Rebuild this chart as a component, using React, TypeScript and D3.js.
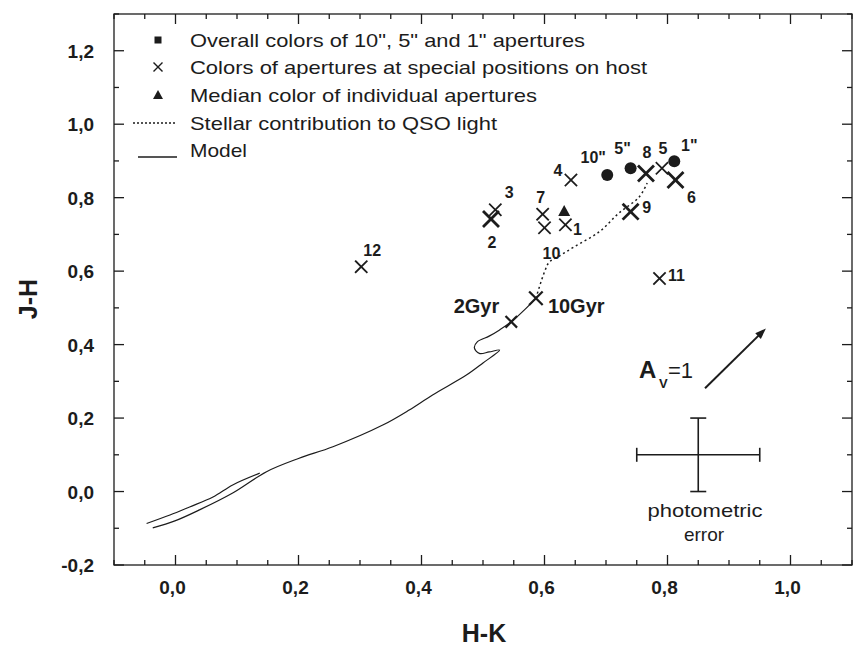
import React from "react";
import * as d3 from "d3";

// ---- data ----
const xTickValues = [0, 0.2, 0.4, 0.6, 0.8, 1.0];
const xTickLabels = ["0,0", "0,2", "0,4", "0,6", "0,8", "1,0"];
const yTickValues = [-0.2, 0, 0.2, 0.4, 0.6, 0.8, 1.0, 1.2];
const yTickLabels = ["-0,2", "0,0", "0,2", "0,4", "0,6", "0,8", "1,0", "1,2"];

// Overall colors of 10", 5" and 1" apertures
const overallLabels = ['10"', '5"', '1"'];
const overallHK = [0.702, 0.740, 0.811];
const overallJH = [0.862, 0.880, 0.899];

// Colors of apertures at special positions on host
const specialLabels = ["1", "2", "3", "4", "5", "6", "7", "8", "9", "10", "11", "12"];
const specialHK = [0.634, 0.513, 0.520, 0.643, 0.791, 0.813, 0.597, 0.765, 0.740, 0.600, 0.787, 0.302];
const specialJH = [0.726, 0.742, 0.767, 0.848, 0.880, 0.848, 0.755, 0.866, 0.762, 0.718, 0.580, 0.612];
const specialBold = [false, true, false, false, false, true, false, true, true, false, false, false];

// Median color of individual apertures
const medianHK = [0.632];
const medianJH = [0.764];

// Model track (solid)
const modelTrackMain: [number, number][] = [
  [-0.037, -0.099], [-0.001, -0.080], [0.039, -0.050], [0.093, -0.004], [0.148, 0.054],
  [0.200, 0.090], [0.256, 0.122], [0.337, 0.181], [0.380, 0.222], [0.418, 0.263],
  [0.473, 0.317], [0.500, 0.350], [0.527, 0.385], [0.510, 0.380], [0.494, 0.376],
  [0.486, 0.391], [0.491, 0.408], [0.510, 0.423], [0.527, 0.440], [0.546, 0.462],
  [0.567, 0.494], [0.586, 0.526],
];
const modelTrackBranch: [number, number][] = [
  [-0.047, -0.087], [-0.009, -0.064], [0.023, -0.042], [0.061, -0.015], [0.093, 0.018], [0.137, 0.050],
];
// Stellar contribution to QSO light (dotted)
const stellarTrack: [number, number][] = [
  [0.586, 0.526], [0.600, 0.598], [0.608, 0.625], [0.624, 0.641], [0.648, 0.666],
  [0.689, 0.707], [0.721, 0.758], [0.754, 0.802], [0.767, 0.840],
];
// Age markers on model
const ageLabels = ["2Gyr", "10Gyr"];
const ageHK = [0.546, 0.586];
const ageJH = [0.462, 0.526];

// Reddening vector A_V = 1
const avStart: [number, number] = [0.861, 0.281];
const avEnd: [number, number] = [0.960, 0.444];

// Photometric error
const errCenter: [number, number] = [0.85, 0.10];
const errHK = 0.1;
const errJH = 0.1;

const legendLabels = [
  'Overall colors of 10", 5" and 1" apertures',
  "Colors of apertures at special positions on host",
  "Median color of individual apertures",
  "Stellar contribution to QSO light",
  "Model",
];

// ---- layout ----
const W = 854;
const H = 652;
const L = 114, R = 852, T = 14, B = 565;
const INK = "#1c1c1c";
const FONT = "'Liberation Sans', Arial, Helvetica, sans-serif";

const specialOffsets: [number, number][] = [
  [12, 4], [1, 23], [14, -18], [-13, -10], [1, -20], [16, 17],
  [-2, -17], [1, -21], [16, -5], [7, 25], [17, -3], [11, -17],
];
const overallOffsets: [number, number][] = [[-14, -18], [-8, -20], [15, -16]];
const legendWidths = [395, 457, 347, 307, 57];

function Cross({ cx, cy, s, w }: { cx: number; cy: number; s: number; w: number }) {
  return (
    <g stroke={INK} strokeWidth={w} strokeLinecap="square">
      <line x1={cx - s} y1={cy - s} x2={cx + s} y2={cy + s} />
      <line x1={cx - s} y1={cy + s} x2={cx + s} y2={cy - s} />
    </g>
  );
}

export default function App() {
  const x = d3.scaleLinear().domain([-0.1, 1.1]).range([L, R]);
  const y = d3.scaleLinear().domain([-0.2, 1.3]).range([B, T]);
  const line = d3.line<[number, number]>().x((d) => x(d[0])).y((d) => y(d[1])).curve(d3.curveCatmullRom);

  const xMinor = d3.range(-0.1, 1.1001, 0.05).filter((v) => !xTickValues.some((t) => Math.abs(t - v) < 1e-6));
  const yMinor = d3.range(-0.2, 1.3001, 0.1).filter((v) => !yTickValues.some((t) => Math.abs(t - v) < 1e-6));

  const ax0 = x(avStart[0]), ay0 = y(avStart[1]), ax1 = x(avEnd[0]), ay1 = y(avEnd[1]);
  const ang = Math.atan2(ay1 - ay0, ax1 - ax0);
  const hl = 11, hw = 4;
  const head = [
    [ax1, ay1],
    [ax1 - hl * Math.cos(ang) + hw * Math.sin(ang), ay1 - hl * Math.sin(ang) - hw * Math.cos(ang)],
    [ax1 - hl * Math.cos(ang) - hw * Math.sin(ang), ay1 - hl * Math.sin(ang) + hw * Math.cos(ang)],
  ].map((p) => p.join(",")).join(" ");

  const ecx = x(errCenter[0]), ecy = y(errCenter[1]);
  const ex0 = x(errCenter[0] - errHK), ex1 = x(errCenter[0] + errHK);
  const ey0 = y(errCenter[1] - errJH), ey1 = y(errCenter[1] + errJH);

  const legendY = [40, 67, 95, 123, 150];

  return (
    <svg width={W} height={H} style={{ position: "absolute", left: 0, top: 0, background: "#fff" }} fontFamily={FONT}>
      <rect x={0} y={0} width={W} height={H} fill="#fff" />
      {/* frame */}
      <rect x={L} y={T} width={R - L} height={B - T} fill="none" stroke={INK} strokeWidth={1.3} />
      {/* ticks */}
      <g stroke={INK} strokeWidth={1.3}>
        {xTickValues.map((v) => (
          <g key={"xt" + v}>
            <line x1={x(v)} x2={x(v)} y1={B} y2={B - 10} />
            <line x1={x(v)} x2={x(v)} y1={T} y2={T + 10} />
          </g>
        ))}
        {xMinor.map((v) => (
          <g key={"xm" + v}>
            <line x1={x(v)} x2={x(v)} y1={B} y2={B - 5} />
            <line x1={x(v)} x2={x(v)} y1={T} y2={T + 5} />
          </g>
        ))}
        {yTickValues.map((v) => (
          <g key={"yt" + v}>
            <line x1={L} x2={L + 10} y1={y(v)} y2={y(v)} />
            <line x1={R} x2={R - 10} y1={y(v)} y2={y(v)} />
          </g>
        ))}
        {yMinor.map((v) => (
          <g key={"ym" + v}>
            <line x1={L} x2={L + 5} y1={y(v)} y2={y(v)} />
            <line x1={R} x2={R - 5} y1={y(v)} y2={y(v)} />
          </g>
        ))}
      </g>
      {/* tick labels */}
      <g fontWeight="bold" fontSize={19} fill={INK}>
        {xTickValues.map((v, i) => (
          <text key={"xl" + v} x={x(v) - 3} y={594} textAnchor="middle">{xTickLabels[i]}</text>
        ))}
        {yTickValues.map((v, i) => (
          <text key={"yl" + v} x={94} y={y(v) + 7} textAnchor="end">{yTickLabels[i]}</text>
        ))}
      </g>
      {/* axis titles */}
      <text x={484} y={642} textAnchor="middle" fontWeight="bold" fontSize={25} fill={INK}>H-K</text>
      <text transform="translate(37,299) rotate(-90)" textAnchor="middle" fontWeight="bold" fontSize={25} fill={INK}>J-H</text>

      {/* model track */}
      <path d={line(modelTrackMain) || ""} fill="none" stroke={INK} strokeWidth={1.2} />
      <path d={line(modelTrackBranch) || ""} fill="none" stroke={INK} strokeWidth={1.2} />
      <path d={line(stellarTrack) || ""} fill="none" stroke={INK} strokeWidth={1.5} strokeDasharray="2,3" />

      {/* age markers */}
      {ageLabels.map((lab, i) => (
        <g key={lab}>
          <Cross cx={x(ageHK[i])} cy={y(ageJH[i])} s={i === 1 ? 6 : 5} w={2.2} />
          <text
            x={i === 0 ? 500 - (x(ageHK[i]) - x(ageHK[i])) : 0}
            y={0}
            display="none"
          />
          <text
            x={x(ageHK[i]) + (i === 0 ? -12 : 12)}
            y={313}
            textAnchor={i === 0 ? "end" : "start"}
            fontWeight="bold"
            fontSize={20}
            fill={INK}
          >
            {lab}
          </text>
        </g>
      ))}

      {/* special positions */}
      {specialLabels.map((lab, i) => {
        const cx = x(specialHK[i]), cy = y(specialJH[i]);
        return (
          <g key={"sp" + lab}>
            <Cross cx={cx} cy={cy} s={specialBold[i] ? 7 : 5.5} w={specialBold[i] ? 2.8 : 1.8} />
            <text x={cx + specialOffsets[i][0]} y={cy + specialOffsets[i][1] + 6} textAnchor="middle" fontSize={16} fontWeight="bold" fill={INK}>
              {lab}
            </text>
          </g>
        );
      })}

      {/* overall apertures */}
      {overallLabels.map((lab, i) => {
        const cx = x(overallHK[i]), cy = y(overallJH[i]);
        return (
          <g key={"ov" + i}>
            <circle cx={cx} cy={cy} r={6} fill={INK} />
            <text x={cx + overallOffsets[i][0]} y={cy + overallOffsets[i][1] + 6} textAnchor="middle" fontSize={16} fontWeight="bold" fill={INK}>
              {lab}
            </text>
          </g>
        );
      })}

      {/* median */}
      {medianHK.map((hk, i) => {
        const cx = x(hk), cy = y(medianJH[i]);
        return <polygon key={"md" + i} points={`${cx},${cy - 6} ${cx - 6},${cy + 5} ${cx + 6},${cy + 5}`} fill={INK} />;
      })}

      {/* A_V arrow */}
      <line x1={ax0} y1={ay0} x2={ax1 - 6 * Math.cos(ang)} y2={ay1 - 6 * Math.sin(ang)} stroke={INK} strokeWidth={2} />
      <polygon points={head} fill={INK} />
      <text x={639} y={378} fill={INK} fontSize={24} fontWeight="bold">A</text>
      <text x={659} y={388} fill={INK} fontSize={13} fontWeight="bold">V</text>
      <text x={668} y={378} fill={INK} fontSize={22}>=1</text>

      {/* photometric error */}
      <g stroke={INK} strokeWidth={1.6}>
        <line x1={ex0} x2={ex1} y1={ecy} y2={ecy} />
        <line x1={ex0} x2={ex0} y1={ecy - 7} y2={ecy + 7} />
        <line x1={ex1} x2={ex1} y1={ecy - 7} y2={ecy + 7} />
        <line x1={ecx} x2={ecx} y1={ey0} y2={ey1} />
        <line x1={ecx - 8} x2={ecx + 8} y1={ey0} y2={ey0} />
        <line x1={ecx - 8} x2={ecx + 8} y1={ey1} y2={ey1} />
      </g>
      <text x={705} y={517} textAnchor="middle" fontSize={19} fill={INK} textLength={115} lengthAdjust="spacingAndGlyphs">photometric</text>
      <text x={704} y={541} textAnchor="middle" fontSize={19} fill={INK}>error</text>

      {/* legend */}
      <rect x={154.5} y={legendY[0] - 3.5} width={7} height={7} fill={INK} />
      <Cross cx={158} cy={legendY[1]} s={4} w={1.4} />
      <polygon points={`158,${legendY[2] - 5} 153,${legendY[2] + 4} 163,${legendY[2] + 4}`} fill={INK} />
      <line x1={133} x2={177} y1={legendY[3]} y2={legendY[3]} stroke={INK} strokeWidth={1.4} strokeDasharray="2,2" />
      <line x1={138} x2={177} y1={157} y2={157} stroke={INK} strokeWidth={1.4} />
      {legendLabels.map((t, i) => (
        <text key={"lg" + i} x={190} y={legendY[i] + 7} fontSize={19} fill={INK} textLength={legendWidths[i]} lengthAdjust="spacingAndGlyphs">
          {t}
        </text>
      ))}
    </svg>
  );
}
